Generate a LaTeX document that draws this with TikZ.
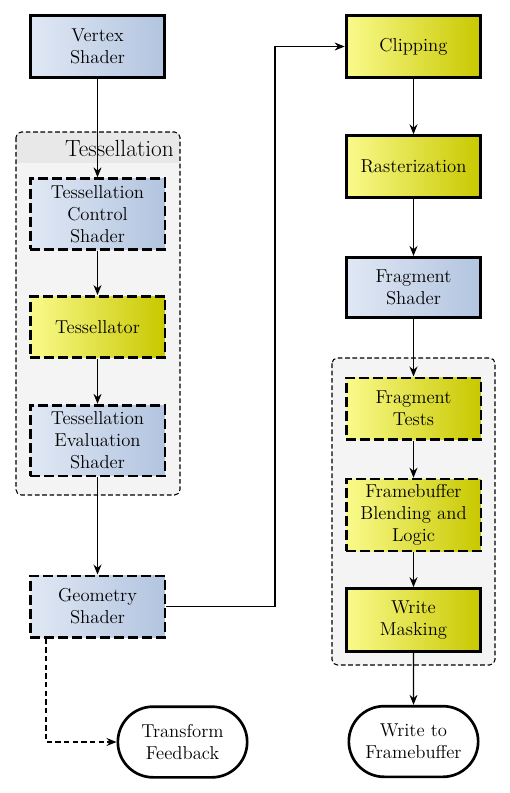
\documentclass[tikz,border=0pt]{standalone}
\usetikzlibrary{arrows.meta,shapes.misc}
\definecolor{blueL}{HTML}{E0E8F4}
\definecolor{blueR}{HTML}{B2C4DF}
\definecolor{yelL}{HTML}{FAFA8C}
\definecolor{yelR}{HTML}{C8C800}
\definecolor{grpfill}{HTML}{F4F4F4}
\definecolor{grphead}{HTML}{E8E8E8}
\tikzset{every node/.style={font=\fontsize{14}{16.5}\selectfont, align=center, inner sep=2pt},
  stage/.style={rectangle, draw=black, minimum width=101pt},
  bluestage/.style={stage, left color=blueL, right color=blueR},
  yelstage/.style={stage, left color=yelL, right color=yelR},
  solidline/.style={line width=2.3pt},
  dashline/.style={line width=2pt, dash pattern=on 7.5pt off 3pt},
  endpoint/.style={rounded rectangle, draw=black, fill=white, line width=2pt, minimum width=101pt, minimum height=53pt},
  flow/.style={-{Stealth[length=7.5pt,width=6pt,inset=2.5pt]}, line width=0.8pt},
  group/.style={draw=black, line width=0.8pt, dash pattern=on 3.5pt off 2pt, rounded corners=4pt}}

\begin{document}
\begin{tikzpicture}[x=0.75pt,y=-0.75pt]
  \useasboundingbox (0,0) rectangle (510,793);
  % tessellation group
  \begin{scope}
   \clip[rounded corners=4pt] (16,132) rectangle (180,495);
   \fill[grpfill] (16,132) rectangle (180,495);
   \fill[grphead] (16,132) rectangle (180,163);
  \end{scope}
  \draw[group] (16,132) rectangle (180,495);
  \node[anchor=east, font=\fontsize{17.5}{20}\selectfont, inner sep=0pt] (tsltitle) at (174,148) {Tessellation};
  % fragment group
  \draw[group, fill=grpfill] (332,358) rectangle (495,665);

  % left column
  \node[bluestage, solidline, minimum height=46pt] (vs)   at (97.5,46.5)  {Vertex\\Shader};
  \node[bluestage, dashline,  minimum height=53pt] (tcs)  at (97.5,214)   {Tessellation\\Control\\Shader};
  \node[yelstage,  dashline,  minimum height=46pt] (tess) at (97.5,327)   {Tessellator};
  \node[bluestage, dashline,  minimum height=53pt] (tes)  at (97.5,440.5) {Tessellation\\Evaluation\\Shader};
  \node[bluestage, dashline,  minimum height=46pt] (gs)   at (97.5,606.5) {Geometry\\Shader};
  \node[endpoint] (tf) at (182.5,742) {Transform\\Feedback};

  % right column
  \node[yelstage,  solidline, minimum height=46pt] (clip) at (413.5,46.5)  {Clipping};
  \node[yelstage,  solidline, minimum height=46pt] (rast) at (413.5,166.5) {Rasterization};
  \node[bluestage, solidline, minimum height=45pt] (fs)   at (413.5,287.5) {Fragment\\Shader};
  \node[yelstage,  dashline,  minimum height=46pt] (ft)   at (413.5,408.5) {Fragment\\Tests};
  \node[yelstage,  dashline,  minimum height=54pt] (fbl)  at (413.5,515)   {Framebuffer\\Blending and\\Logic};
  \node[yelstage,  solidline, minimum height=47pt] (wm)   at (413.5,620)   {Write\\Masking};
  \node[endpoint] (wf) at (413.5,741.5) {Write to\\Framebuffer};

  \coordinate (turn) at (275,46.5);
  \coordinate (fbx) at (46,0);

  \draw[flow] (vs) -- (tcs);
  \draw[flow] (tcs) -- (tess);
  \draw[flow] (tess) -- (tes);
  \draw[flow] (tes) -- (gs);
  \draw[flow] (gs.east) -| (turn) -- (clip.west);
  \draw[flow, dash pattern=on 4pt off 2.5pt] (gs.south -| fbx) |- (tf.west);
  \draw[flow] (clip) -- (rast);
  \draw[flow] (rast) -- (fs);
  \draw[flow] (fs) -- (ft);
  \draw[flow] (ft) -- (fbl);
  \draw[flow] (fbl) -- (wm);
  \draw[flow] (wm) -- (wf);
\end{tikzpicture}
\end{document}
